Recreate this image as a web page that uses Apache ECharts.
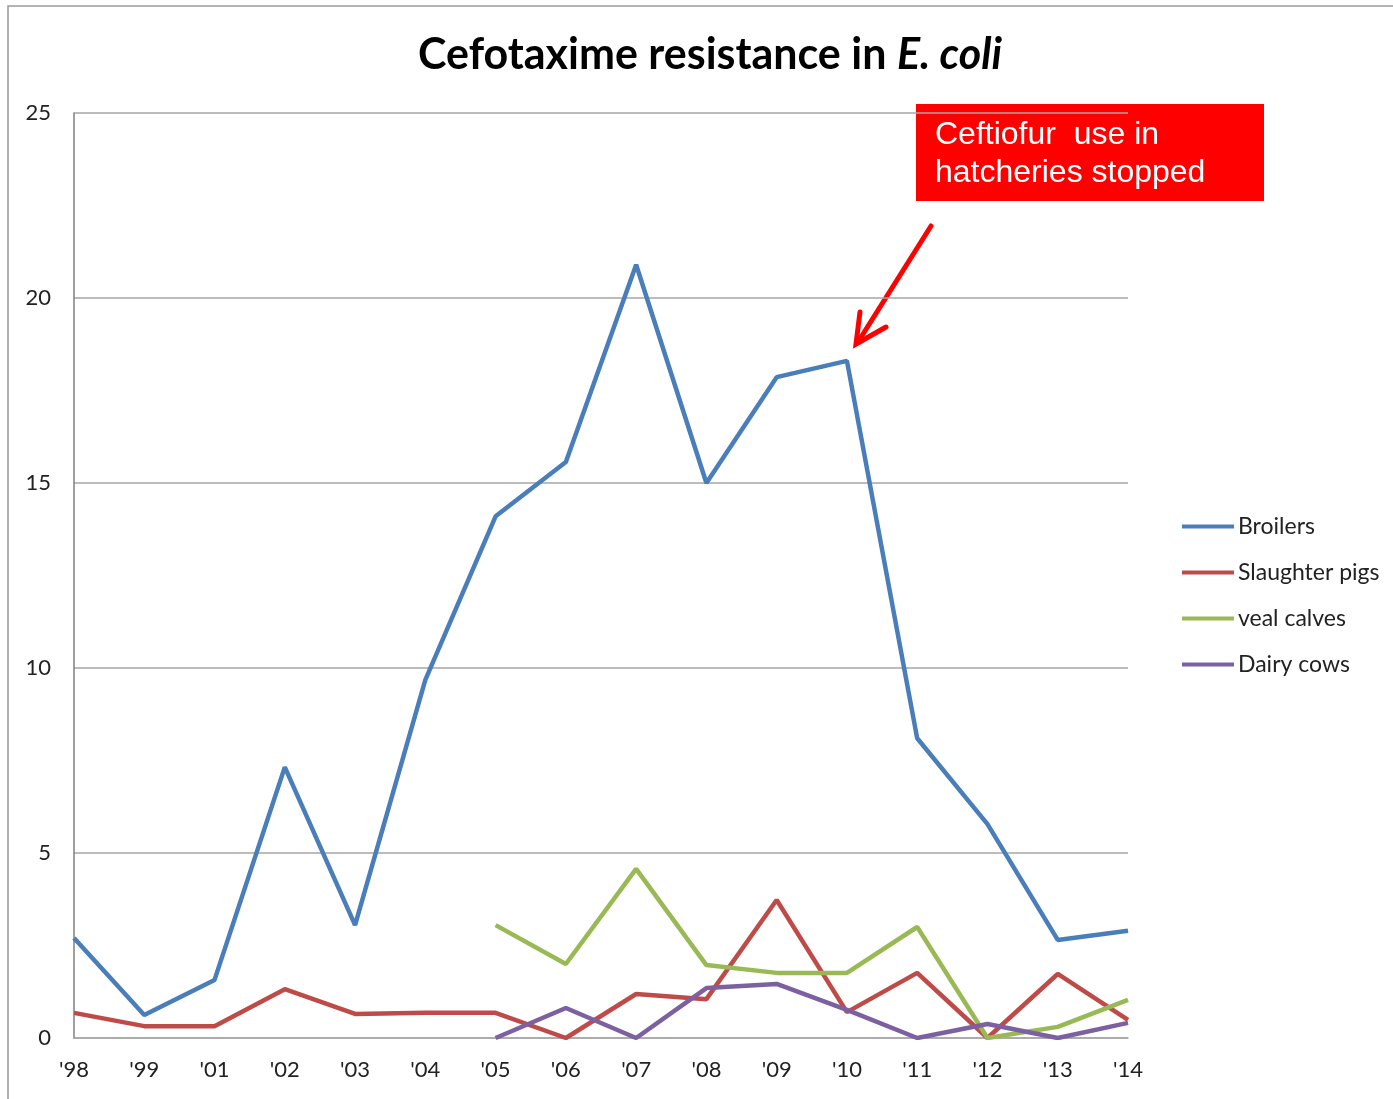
<!DOCTYPE html>
<html>
<head>
<meta charset="utf-8">
<script src="https://cdn.jsdelivr.net/npm/echarts@6/dist/echarts.min.js"></script>
<style>
  html, body { margin: 0; padding: 0; background: #fff; }
  #chart { width: 1393px; height: 1099px; }
</style>
</head>
<body>
<div id="chart"></div>
<script>
const years = ["'98", "'99", "'01", "'02", "'03", "'04", "'05", "'06", "'07", "'08", "'09", "'10", "'11", "'12", "'13", "'14"];
const broilers = [2.7, 0.62, 1.57, 7.32, 3.05, 9.68, 14.1, 15.57, 20.9, 15.0, 17.86, 18.3, 8.1, 5.78, 2.65, 2.9];
const slaughterPigs = [0.68, 0.32, 0.32, 1.32, 0.65, 0.68, 0.68, 0, 1.19, 1.05, 3.73, 0.7, 1.76, 0, 1.73, 0.49];
const vealCalves = [null, null, null, null, null, null, 3.05, 2.0, 4.57, 1.97, 1.76, 1.76, 3.0, 0, 0.3, 1.03];
const dairyCows = [null, null, null, null, null, null, 0, 0.81, 0, 1.35, 1.46, 0.76, 0, 0.38, 0, 0.41];

const font = 'Lato, "Open Sans", sans-serif';

function line(name, data, color) {
  return {
    name: name,
    type: 'line',
    data: data,
    symbol: 'none',
    connectNulls: false,
    lineStyle: { color: color, width: 4.5 },
    itemStyle: { color: color },
    emphasis: { disabled: true }
  };
}

const chart = echarts.init(document.getElementById('chart'));
chart.setOption({
  animation: false,
  backgroundColor: '#fff',
  title: {
    text: '{a|Cefotaxime resistance in }{b|E. coli}',
    left: 413,
    top: 29,
    textStyle: {
      rich: {
        a: { fontFamily: font, fontWeight: 'bold', fontSize: 43, color: '#000' },
        b: { fontFamily: font, fontWeight: 'bold', fontStyle: 'italic', fontSize: 43, color: '#000' }
      }
    }
  },
  legend: {
    orient: 'vertical',
    left: 1177,
    top: 509,
    icon: 'rect',
    itemWidth: 52,
    itemHeight: 4,
    itemGap: 21,
    textStyle: { fontFamily: font, fontSize: 23, color: '#222', lineHeight: 25, padding: [0, 0, 0, -1] },
    data: ['Broilers', 'Slaughter pigs', 'veal calves', 'Dairy cows']
  },
  grid: { left: 74, right: 265, top: 113, bottom: 61, containLabel: false },
  xAxis: {
    type: 'category',
    data: years,
    boundaryGap: false,
    axisLine: { lineStyle: { color: '#a6a6a6', width: 1.5 } },
    axisTick: { show: false },
    axisLabel: { fontFamily: font, fontSize: 22, color: '#222', margin: 21 },
    splitLine: { show: false }
  },
  yAxis: {
    type: 'value',
    min: 0,
    max: 25,
    interval: 5,
    axisLine: { show: true, lineStyle: { color: '#7f7f7f', width: 1.5 } },
    axisTick: { show: false },
    axisLabel: { fontFamily: font, fontSize: 22, color: '#222', margin: 23 },
    splitLine: { lineStyle: { color: '#a6a6a6', width: 1.5 } }
  },
  series: [
    line('Broilers', broilers, '#4a7ebb'),
    line('Slaughter pigs', slaughterPigs, '#be4b48'),
    line('veal calves', vealCalves, '#98b954'),
    line('Dairy cows', dairyCows, '#7d60a0')
  ],
  graphic: [
    {
      type: 'rect', silent: true, z: -1,
      shape: { x: 8, y: 6, width: 1500, height: 1300 },
      style: { fill: 'none', stroke: '#9a9a9a', lineWidth: 1.5 }
    },
    {
      type: 'rect',
      shape: { x: 916, y: 104, width: 348, height: 97 },
      style: { fill: '#ff0000' }
    },
    {
      type: 'text',
      x: 935, y: 116,
      style: {
        text: 'Ceftiofur  use in\nhatcheries stopped',
        fill: '#fff',
        font: '32px "Liberation Sans", Arial, sans-serif',
        lineHeight: 38
      }
    },
    {
      type: 'line',
      shape: { x1: 931, y1: 226, x2: 858, y2: 342 },
      style: { stroke: '#ff0000', lineWidth: 5, lineCap: 'round' }
    },
    {
      type: 'polyline',
      shape: { points: [[860, 312], [856, 344], [886, 327]] },
      style: { stroke: '#ff0000', fill: 'none', lineWidth: 5, lineCap: 'round', lineJoin: 'miter' }
    }
  ]
});
</script>
</body>
</html>
